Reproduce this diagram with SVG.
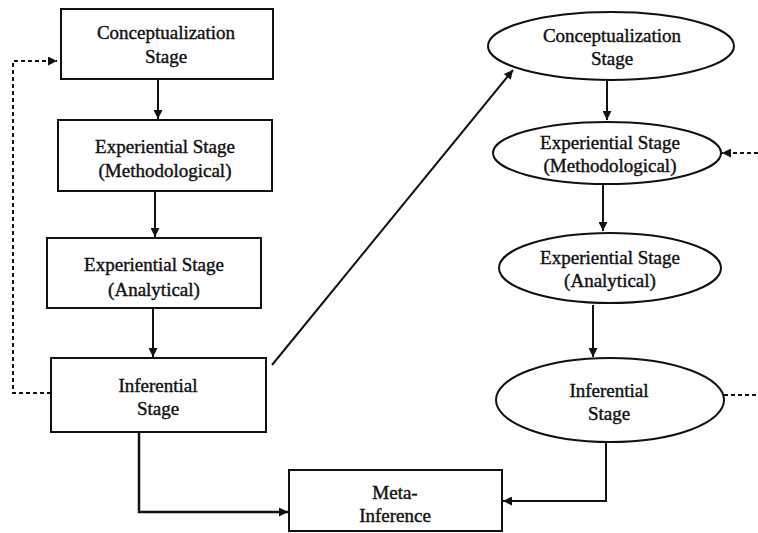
<svg xmlns="http://www.w3.org/2000/svg" width="758" height="533" viewBox="0 0 758 533">
<defs>
<marker id="ah" viewBox="0 0 10 10" refX="10" refY="5" markerWidth="10" markerHeight="9" markerUnits="userSpaceOnUse" orient="auto">
<path d="M0,0 L10,5 L0,10 z" fill="#111"/>
</marker>
</defs>
<style>
.box{fill:#fff;stroke:#111;stroke-width:2}
.t{font-family:"Liberation Serif","Times New Roman",serif;font-size:19px;fill:#111;stroke:#111;stroke-width:0.4;text-anchor:middle}
.c{fill:none;stroke:#111;stroke-width:2}
.d{fill:none;stroke:#111;stroke-width:2;stroke-dasharray:4 3}
</style>
<rect width="758" height="533" fill="#fff"/>
<g id="connectors">
<line class="c" x1="158" y1="79" x2="158" y2="119" marker-end="url(#ah)"/>
<line class="c" x1="155" y1="191" x2="155" y2="237" marker-end="url(#ah)"/>
<line class="c" x1="153" y1="308" x2="153" y2="357" marker-end="url(#ah)"/>
<polyline class="c" style="stroke-width:2.5" points="139,432 139,512 288,512" marker-end="url(#ah)"/>
<polyline class="d" points="51,393 13,393 13,61 57,61" marker-end="url(#ah)"/>
<line class="c" x1="272" y1="365" x2="513" y2="70" marker-end="url(#ah)"/>
<line class="c" x1="607" y1="80" x2="607" y2="120" marker-end="url(#ah)"/>
<line class="c" x1="603" y1="184" x2="603" y2="231" marker-end="url(#ah)"/>
<line class="c" x1="593" y1="305" x2="593" y2="357" marker-end="url(#ah)"/>
<polyline class="c" points="606,443 606,501 503,501" marker-end="url(#ah)"/>
<line class="d" x1="758" y1="153" x2="722" y2="153" marker-end="url(#ah)"/>
<line class="d" x1="724" y1="395" x2="758" y2="395"/>
</g>
<g id="box-conceptualization">
<rect class="box" x="61" y="9" width="212" height="70"/>
<text class="t" x="166" y="39">Conceptualization</text>
<text class="t" x="166" y="63">Stage</text>
</g>
<g id="box-methodological">
<rect class="box" x="58" y="120" width="214" height="71"/>
<text class="t" x="165" y="153">Experiential Stage</text>
<text class="t" x="165" y="177">(Methodological)</text>
</g>
<g id="box-analytical">
<rect class="box" x="47" y="238" width="214" height="70"/>
<text class="t" x="154" y="271">Experiential Stage</text>
<text class="t" x="154" y="296">(Analytical)</text>
</g>
<g id="box-inferential">
<rect class="box" x="51" y="358" width="215" height="74"/>
<text class="t" x="158" y="392">Inferential</text>
<text class="t" x="158" y="415">Stage</text>
</g>
<g id="box-meta">
<rect class="box" x="289" y="470" width="213" height="61"/>
<text class="t" x="395" y="499">Meta-</text>
<text class="t" x="395" y="522">Inference</text>
</g>
<g id="ell-conceptualization">
<ellipse class="box" cx="611" cy="46" rx="123" ry="34"/>
<text class="t" x="612" y="42">Conceptualization</text>
<text class="t" x="612" y="65">Stage</text>
</g>
<g id="ell-methodological">
<ellipse class="box" cx="607" cy="153" rx="114" ry="31"/>
<text class="t" x="610" y="149">Experiential Stage</text>
<text class="t" x="610" y="172">(Methodological)</text>
</g>
<g id="ell-analytical">
<ellipse class="box" cx="610" cy="268" rx="111" ry="35"/>
<text class="t" x="610" y="264">Experiential Stage</text>
<text class="t" x="610" y="287">(Analytical)</text>
</g>
<g id="ell-inferential">
<ellipse class="box" cx="610" cy="400" rx="114" ry="42"/>
<text class="t" x="609" y="397">Inferential</text>
<text class="t" x="609" y="420">Stage</text>
</g>
</svg>
